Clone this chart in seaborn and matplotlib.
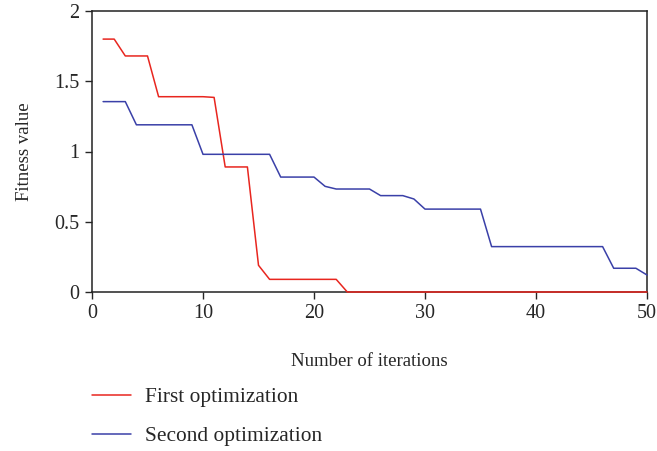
import matplotlib
matplotlib.use("Agg")
import matplotlib.pyplot as plt
import seaborn as sns
import pandas as pd

iterations = list(range(1, 51))
first_opt = [1.80, 1.80, 1.68, 1.68, 1.68, 1.39, 1.39, 1.39, 1.39, 1.39,
             1.385, 0.89, 0.89, 0.89, 0.19, 0.09, 0.09, 0.09, 0.09, 0.09,
             0.09, 0.09] + [0.0] * 28
second_opt = [1.355, 1.355, 1.355, 1.19, 1.19, 1.19, 1.19, 1.19, 1.19, 0.98,
              0.98, 0.98, 0.98, 0.98, 0.98, 0.98, 0.818, 0.818, 0.818, 0.818,
              0.752, 0.733, 0.733, 0.733, 0.733, 0.686, 0.686, 0.686, 0.662, 0.59,
              0.59, 0.59, 0.59, 0.59, 0.59, 0.323, 0.323, 0.323, 0.323, 0.323,
              0.323, 0.323, 0.323, 0.323, 0.323, 0.323, 0.169, 0.169, 0.169, 0.121]
series_names = ["First optimization", "Second optimization"]
x_ticks = [0, 10, 20, 30, 40, 50]
y_ticks = [0, 0.5, 1, 1.5, 2]
y_tick_labels = ["0", "0.5", "1", "1.5", "2"]

df = pd.DataFrame({
    "Iteration": iterations * 2,
    "Fitness": first_opt + second_opt,
    "Series": [series_names[0]] * 50 + [series_names[1]] * 50,
})

sns.set_style("ticks")
plt.rcParams["font.family"] = ["Liberation Serif", "DejaVu Serif"]
plt.rcParams["font.size"] = 13.5

fig = plt.figure(figsize=(6.57, 4.51), dpi=100)
ax = fig.add_axes([92 / 657, 1 - 292 / 451, (647 - 92) / 657, (292 - 11) / 451])

palette = {series_names[0]: "#e8261f", series_names[1]: "#3a40a8"}
sns.lineplot(data=df, x="Iteration", y="Fitness", hue="Series", palette=palette,
             linewidth=1.1, ax=ax, legend=True)
for ln in ax.get_lines():
    ln.set_zorder(5)
    ln.set_clip_on(False)

ax.set_xlim(0, 50)
ax.set_ylim(0, 2)
ax.set_xticks(x_ticks)
ax.set_yticks(y_ticks)
ax.set_yticklabels(y_tick_labels)
ax.tick_params(direction="out", length=5, width=1, labelsize=14.5, pad=4)
for s in ax.spines.values():
    s.set_visible(True)
    s.set_color("#222222")
    s.set_linewidth(1.1)
    s.set_zorder(2)
ax.set_xlabel("Number of iterations", fontsize=13.5, labelpad=21)
ax.set_ylabel("Fitness value", fontsize=13.5, labelpad=15)

handles, labels = ax.get_legend_handles_labels()
leg = ax.legend(handles, labels, loc="upper left", bbox_to_anchor=(-0.0155, -0.308),
                frameon=False, handlelength=1.82, handletextpad=0.65, labelspacing=0.9,
                fontsize=15.4, borderaxespad=0)
for ln in leg.get_lines():
    ln.set_linewidth(1.1)

fig.savefig("out.png", dpi=100)
